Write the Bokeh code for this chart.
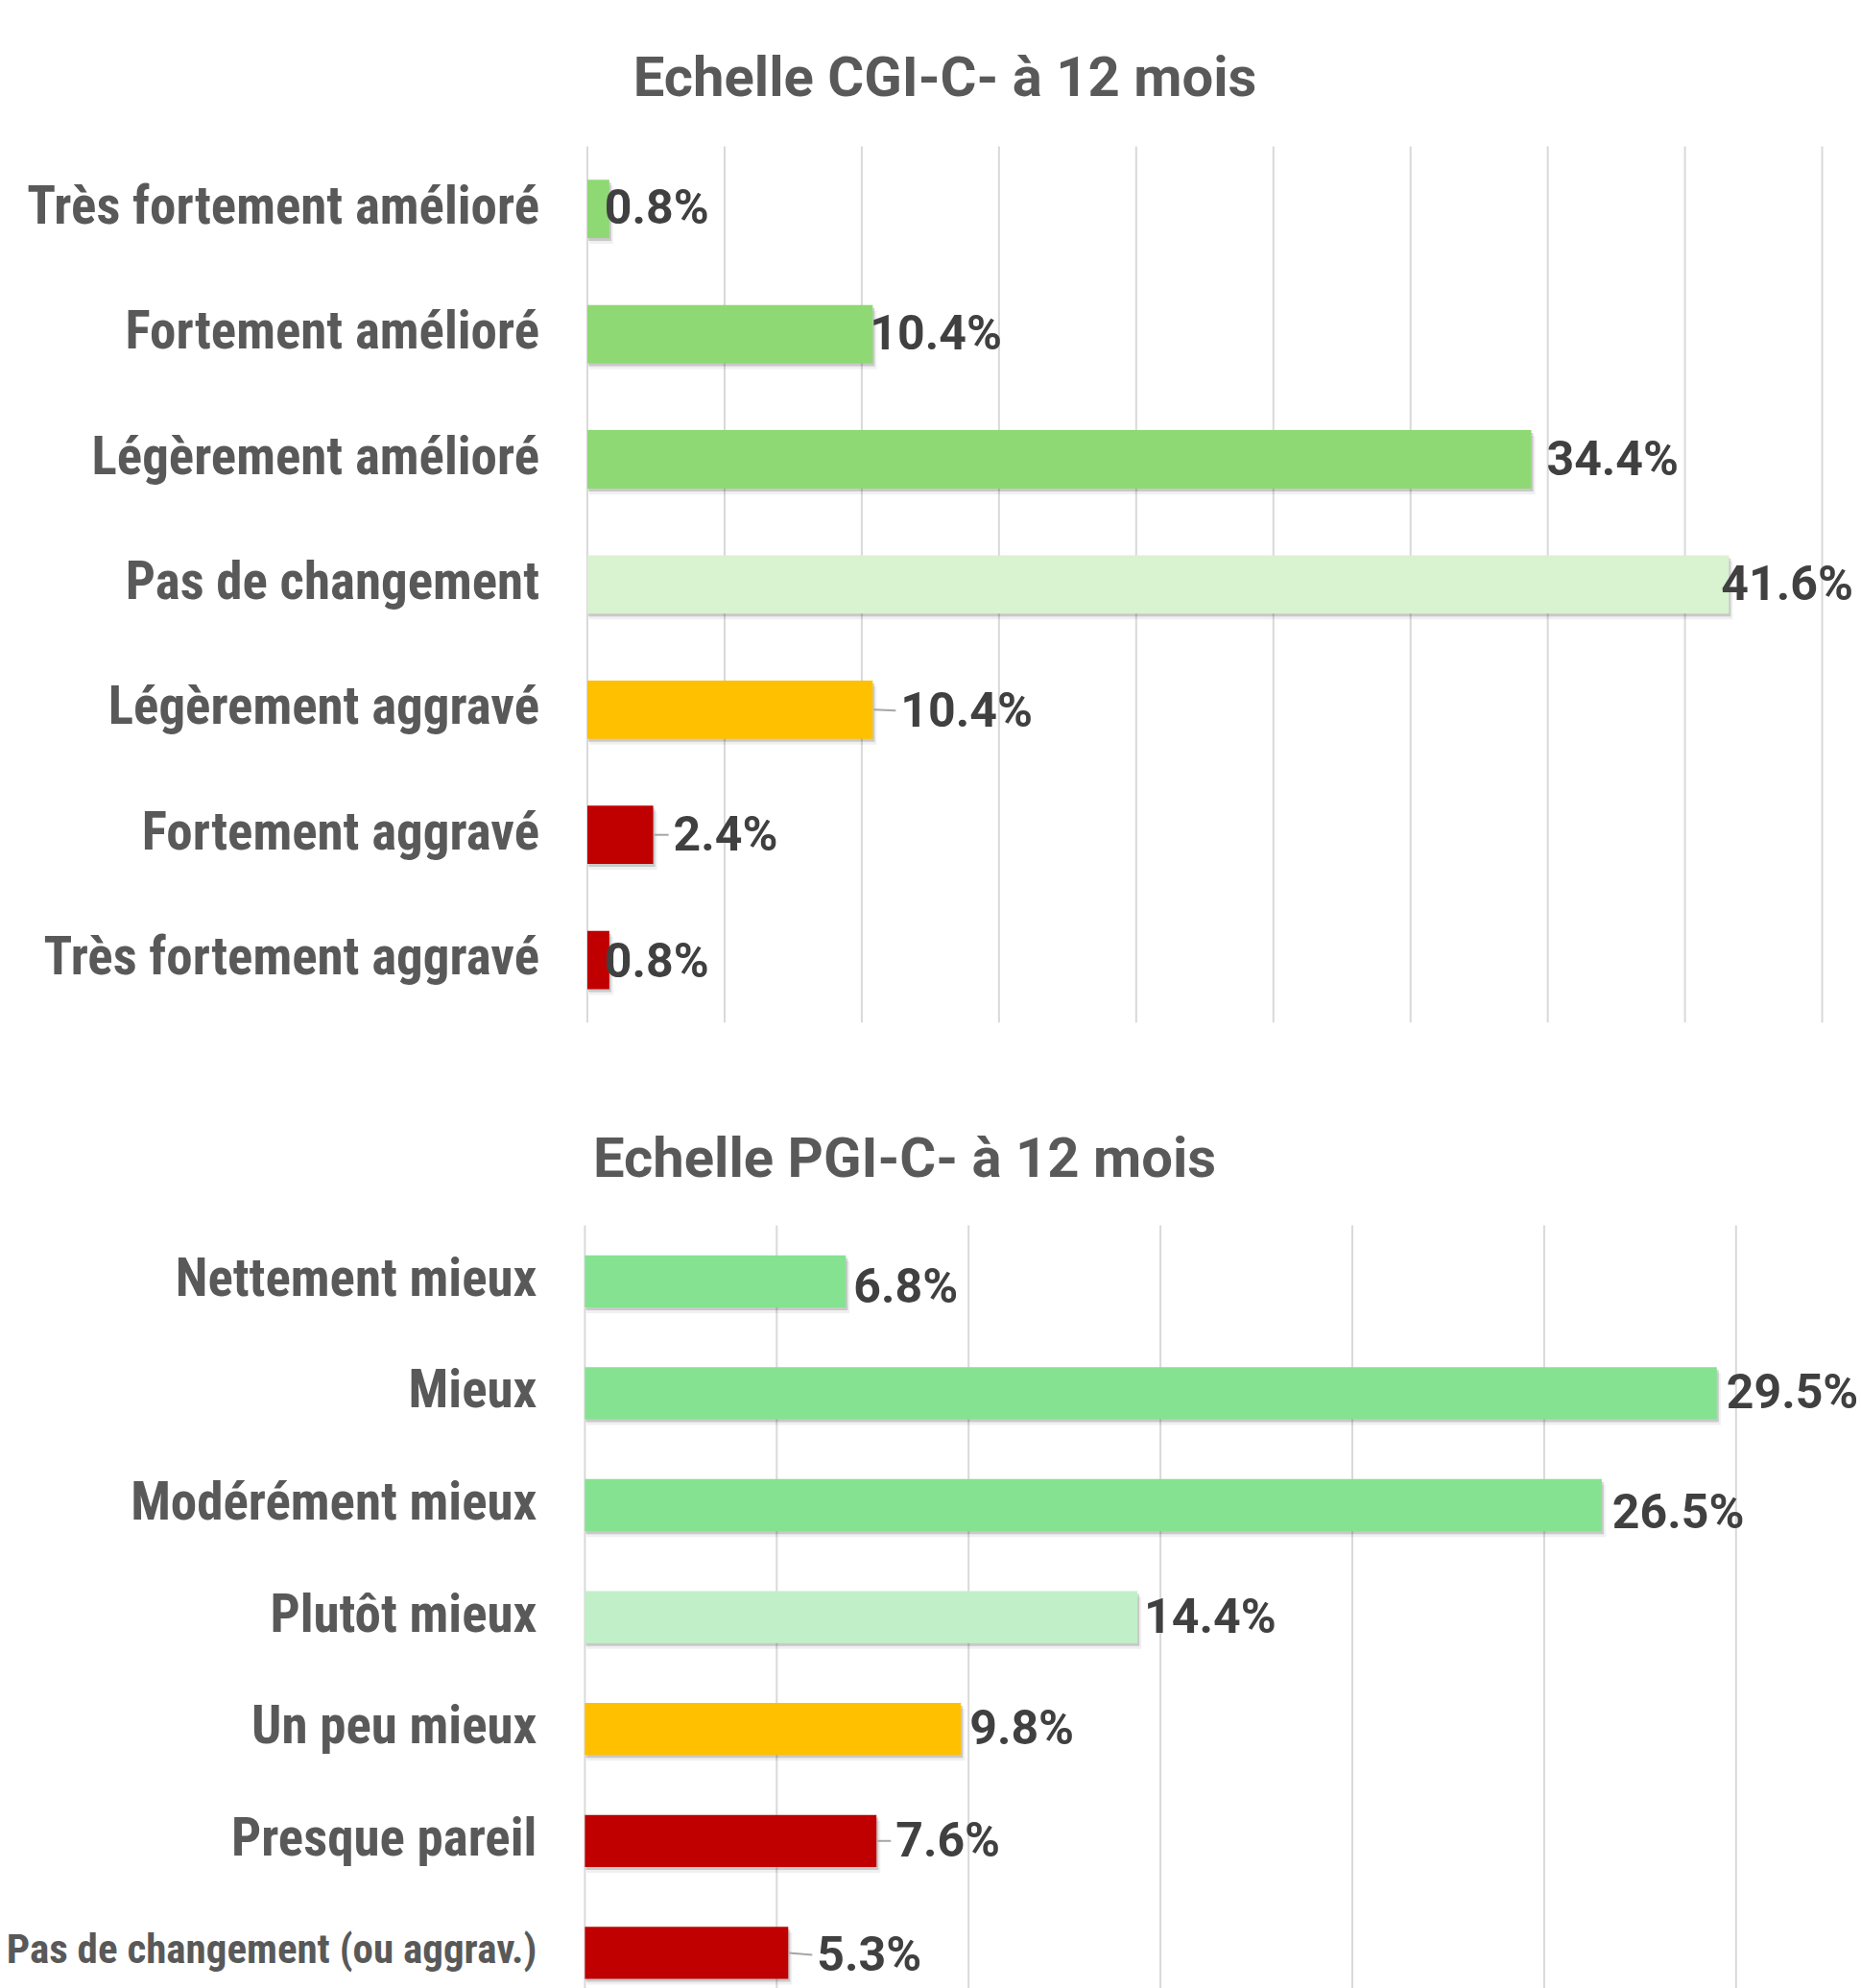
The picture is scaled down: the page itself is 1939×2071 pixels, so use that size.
from bokeh.plotting import figure
from bokeh.models import ColumnDataSource, Range1d
from bokeh.layouts import column
from bokeh.embed import file_html
from bokeh.resources import INLINE
from bokeh.core.properties import value

# ---------------- data ----------------
cgi_title = "Echelle CGI-C- à 12 mois"
cgi_categories = ["Très fortement amélioré", "Fortement amélioré", "Légèrement amélioré",
                  "Pas de changement", "Légèrement aggravé", "Fortement aggravé",
                  "Très fortement aggravé"]
cgi_values = [0.8, 10.4, 34.4, 41.6, 10.4, 2.4, 0.8]
cgi_colors = ["#8ED973", "#8ED973", "#8ED973", "#D9F2D0", "#FFC000", "#C00000", "#C00000"]
cgi_ticks = [0, 5, 10, 15, 20, 25, 30, 35, 40, 45]

pgi_title = "Echelle PGI-C- à 12 mois"
pgi_categories = ["Nettement mieux", "Mieux", "Modérément mieux", "Plutôt mieux",
                  "Un peu mieux", "Presque pareil", "Pas de changement (ou aggrav.)"]
pgi_values = [6.8, 29.5, 26.5, 14.4, 9.8, 7.6, 5.3]
pgi_colors = ["#85E290", "#85E290", "#85E290", "#C1F0C8", "#FFC000", "#C00000", "#C00000"]
pgi_ticks = [0, 5, 10, 15, 20, 25, 30]

# ---------------- layout / style (pixels) ----------------
cgi_label_dx = [-5, -3, 16, -8, 29, 21, -5]
cgi_label_dy = [-2, -1, -1, -1, 1, -1, 1]
cgi_leader = [0, 0, 0, 0, 1, 1, 0]
cgi_cat_size = ["55px"] * 7
pgi_label_dx = [8, 10, 11, 7, 9, 20, 30]
pgi_label_dy = [5, -1, 7, -1, -1, -1, 2]
pgi_leader = [0, 0, 0, 0, 0, 1, 1]
pgi_cat_size = ["55px"] * 6 + ["43px"]

W = 1939
GRID_COLOR = "#D9D9D9"
CAT_COLOR = "#595959"
VAL_COLOR = "#404040"
CAT_FONT = value("'Roboto Condensed', 'Liberation Sans Narrow', Lato")
CAT_RAISE = 4  # px


def make_chart(title, cats, vals, colors, ticks, ppu, ppc, x0, height,
               frame_top, grid_to_edge, title_x, title_y, dx, dy, leader, cat_size):
    n = len(cats)
    x_start = -x0 / ppu
    x_end = (W - x0) / ppu
    y_top = float(n)
    y_end = y_top + frame_top / ppc
    y_start = y_top - (height - frame_top) / ppc
    pos = [n - 0.5 - i for i in range(n)]

    p = figure(width=W, height=height, title=None,
               x_range=Range1d(x_start, x_end), y_range=Range1d(y_start, y_end),
               output_backend="svg", toolbar_location=None,
               x_axis_location=None, y_axis_location=None,
               min_border=0)
    p.outline_line_color = None
    p.background_fill_color = "white"
    p.border_fill_color = "white"
    p.center = []

    # vertical grid lines at the tick values
    g_bottom = y_start if grid_to_edge else 0.0
    p.segment(x0=ticks, x1=ticks, y0=[g_bottom] * len(ticks), y1=[y_top] * len(ticks),
              line_color=GRID_COLOR, line_width=2)

    bar_h = 0.466
    # soft drop shadows
    sh = ColumnDataSource(dict(
        y1=[y - 3 / ppc for y in pos], y2=[y - 6 / ppc for y in pos],
        r1=[v + 2 / ppu for v in vals], r2=[v + 4 / ppu for v in vals]))
    p.hbar(y="y2", left=2 / ppu, right="r2", height=bar_h, source=sh,
           fill_color="#000000", fill_alpha=0.06, line_color=None)
    p.hbar(y="y1", left=1 / ppu, right="r1", height=bar_h, source=sh,
           fill_color="#000000", fill_alpha=0.16, line_color=None)

    src = ColumnDataSource(dict(y=pos, v=vals, color=colors, cat=cats,
                                cy=[y + CAT_RAISE / ppc for y in pos],
                                lab=[f"{v:.1f}%" for v in vals],
                                ly=[y - d / ppc for y, d in zip(pos, dy)],
                                dx=dx, csize=cat_size))
    p.hbar(y="y", left=0, right="v", height=bar_h, source=src,
           fill_color="color", line_color=None)

    # leader lines
    lx0, ly0, lx1, ly1 = [], [], [], []
    for i in range(n):
        if leader[i]:
            lx0.append(vals[i] + 1 / ppu)
            ly0.append(pos[i])
            lx1.append(vals[i] + (dx[i] - 5) / ppu)
            ly1.append(pos[i] - max(dy[i], 0) / ppc)
    p.segment(x0=lx0, y0=ly0, x1=lx1, y1=ly1, line_color="#A6A6A6", line_width=2)

    p.text(x="v", y="ly", text="lab", source=src, x_offset="dx",
           text_font=value("Roboto"), text_font_style="bold",
           text_font_size="50px", text_color=VAL_COLOR,
           text_align="left", text_baseline="middle")

    p.text(x=0, y="cy", text="cat", source=src, x_offset=-50,
           text_font=CAT_FONT, text_font_style="bold",
           text_font_size="csize", text_color=CAT_COLOR,
           text_align="right", text_baseline="middle")

    p.text(x=[(title_x - x0) / ppu], y=[y_end - title_y / ppc], text=[title],
           text_font=value("Roboto"), text_font_style="bold",
           text_font_size="58px", text_color=CAT_COLOR,
           text_align="center", text_baseline="middle")
    return p


H1 = 1108
p1 = make_chart(cgi_title, cgi_categories, cgi_values, cgi_colors, cgi_ticks,
                ppu=28.59, ppc=130.4, x0=611.5, height=H1,
                frame_top=152, grid_to_edge=False, title_x=984, title_y=79,
                dx=cgi_label_dx, dy=cgi_label_dy, leader=cgi_leader,
                cat_size=cgi_cat_size)
p2 = make_chart(pgi_title, pgi_categories, pgi_values, pgi_colors, pgi_ticks,
                ppu=39.98, ppc=116.6, x0=608.9, height=2071 - H1,
                frame_top=168, grid_to_edge=True, title_x=942, title_y=97,
                dx=pgi_label_dx, dy=pgi_label_dy, leader=pgi_leader,
                cat_size=pgi_cat_size)

layout = column(p1, p2, spacing=0)
open("out.html", "w").write(file_html(layout, INLINE))
